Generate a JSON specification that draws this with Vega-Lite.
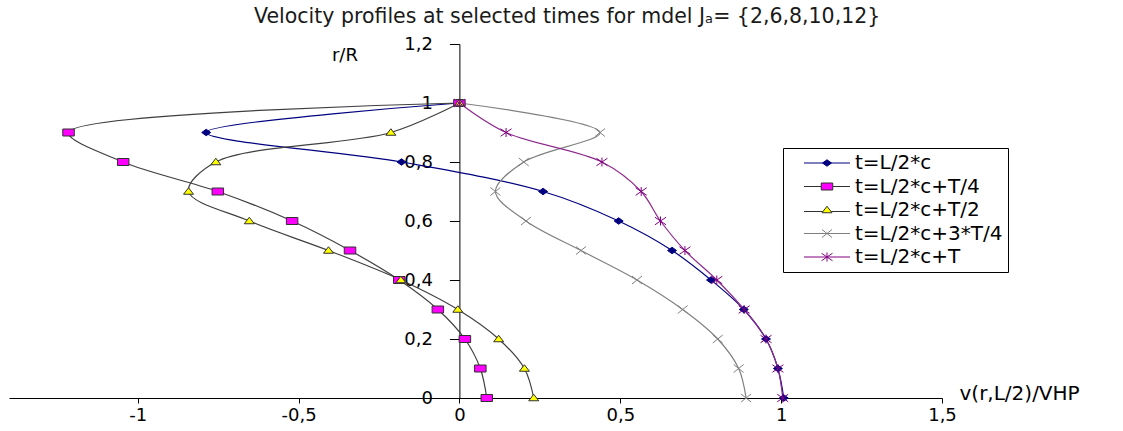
{
  "$schema": "https://vega.github.io/schema/vega-lite/v6.json",
  "width": 933,
  "height": 354,
  "autosize": {"type": "none"},
  "padding": {"left": 9, "top": 44, "right": 181, "bottom": 33},
  "background": "white",
  "title": {
    "text": "Velocity profiles at selected times for mdel Jₐ= {2,6,8,10,12}",
    "anchor": "start",
    "frame": "group",
    "dx": 245,
    "offset": 8,
    "font": "DejaVu Sans",
    "fontSize": 20.5,
    "fontWeight": "normal",
    "color": "#1a1a1a"
  },
  "config": {
    "view": {"stroke": null},
    "axis": {
      "grid": false,
      "domainColor": "black",
      "domainWidth": 1,
      "tickColor": "black",
      "tickWidth": 1,
      "labelColor": "black",
      "titleColor": "black",
      "labelFont": "DejaVu Sans",
      "titleFont": "DejaVu Sans",
      "labelFontSize": 18,
      "titleFontSize": 18,
      "titleFontWeight": "normal"
    }
  },
  "data": {
    "values": [
      {"series": "t=L/2*c", "r": 1, "v": 0},
      {"series": "t=L/2*c", "r": 0.9, "v": -0.787},
      {"series": "t=L/2*c", "r": 0.8, "v": -0.18},
      {"series": "t=L/2*c", "r": 0.7, "v": 0.26},
      {"series": "t=L/2*c", "r": 0.6, "v": 0.495},
      {"series": "t=L/2*c", "r": 0.5, "v": 0.661},
      {"series": "t=L/2*c", "r": 0.4, "v": 0.782},
      {"series": "t=L/2*c", "r": 0.3, "v": 0.884},
      {"series": "t=L/2*c", "r": 0.2, "v": 0.953},
      {"series": "t=L/2*c", "r": 0.1, "v": 0.99},
      {"series": "t=L/2*c", "r": 0, "v": 1.008},
      {"series": "t=L/2*c+T/4", "r": 1, "v": 0},
      {"series": "t=L/2*c+T/4", "r": 0.9, "v": -1.215},
      {"series": "t=L/2*c+T/4", "r": 0.8, "v": -1.045},
      {"series": "t=L/2*c+T/4", "r": 0.7, "v": -0.751},
      {"series": "t=L/2*c+T/4", "r": 0.6, "v": -0.52},
      {"series": "t=L/2*c+T/4", "r": 0.5, "v": -0.34},
      {"series": "t=L/2*c+T/4", "r": 0.4, "v": -0.187},
      {"series": "t=L/2*c+T/4", "r": 0.3, "v": -0.067},
      {"series": "t=L/2*c+T/4", "r": 0.2, "v": 0.017},
      {"series": "t=L/2*c+T/4", "r": 0.1, "v": 0.065},
      {"series": "t=L/2*c+T/4", "r": 0, "v": 0.085},
      {"series": "t=L/2*c+T/2", "r": 1, "v": 0},
      {"series": "t=L/2*c+T/2", "r": 0.9, "v": -0.213},
      {"series": "t=L/2*c+T/2", "r": 0.8, "v": -0.757},
      {"series": "t=L/2*c+T/2", "r": 0.7, "v": -0.842},
      {"series": "t=L/2*c+T/2", "r": 0.6, "v": -0.653},
      {"series": "t=L/2*c+T/2", "r": 0.5, "v": -0.407},
      {"series": "t=L/2*c+T/2", "r": 0.4, "v": -0.182},
      {"series": "t=L/2*c+T/2", "r": 0.3, "v": -0.005},
      {"series": "t=L/2*c+T/2", "r": 0.2, "v": 0.122},
      {"series": "t=L/2*c+T/2", "r": 0.1, "v": 0.202},
      {"series": "t=L/2*c+T/2", "r": 0, "v": 0.231},
      {"series": "t=L/2*c+3*T/4", "r": 1, "v": 0},
      {"series": "t=L/2*c+3*T/4", "r": 0.9, "v": 0.437},
      {"series": "t=L/2*c+3*T/4", "r": 0.8, "v": 0.2},
      {"series": "t=L/2*c+3*T/4", "r": 0.7, "v": 0.112},
      {"series": "t=L/2*c+3*T/4", "r": 0.6, "v": 0.207},
      {"series": "t=L/2*c+3*T/4", "r": 0.5, "v": 0.378},
      {"series": "t=L/2*c+3*T/4", "r": 0.4, "v": 0.552},
      {"series": "t=L/2*c+3*T/4", "r": 0.3, "v": 0.694},
      {"series": "t=L/2*c+3*T/4", "r": 0.2, "v": 0.803},
      {"series": "t=L/2*c+3*T/4", "r": 0.1, "v": 0.868},
      {"series": "t=L/2*c+3*T/4", "r": 0, "v": 0.891},
      {"series": "t=L/2*c+T", "r": 1, "v": 0},
      {"series": "t=L/2*c+T", "r": 0.9, "v": 0.145},
      {"series": "t=L/2*c+T", "r": 0.8, "v": 0.443},
      {"series": "t=L/2*c+T", "r": 0.7, "v": 0.565},
      {"series": "t=L/2*c+T", "r": 0.6, "v": 0.625},
      {"series": "t=L/2*c+T", "r": 0.5, "v": 0.701},
      {"series": "t=L/2*c+T", "r": 0.4, "v": 0.8},
      {"series": "t=L/2*c+T", "r": 0.3, "v": 0.885},
      {"series": "t=L/2*c+T", "r": 0.2, "v": 0.953},
      {"series": "t=L/2*c+T", "r": 0.1, "v": 0.99},
      {"series": "t=L/2*c+T", "r": 0, "v": 1.005}
    ]
  },
  "resolve": {"scale": {"color": "independent", "fill": "independent", "stroke": "independent", "shape": "independent"}},
  "layer": [
    {
      "mark": {"type": "line", "interpolate": "catmull-rom", "strokeWidth": 1.2},
      "encoding": {
        "x": {
          "field": "v", "type": "quantitative",
          "scale": {"domain": [-1.4, 1.5], "nice": false, "zero": false},
          "axis": {
            "orient": "bottom",
            "values": [-1, -0.5, 0, 0.5, 1, 1.5],
            "labelExpr": "replace(toString(datum.value), '.', ',')",
            "labelFlush": false,
            "labelOverlap": false,
            "tickSize": 5,
            "labelPadding": 3,
            "title": "v(r,L/2)/VHP",
            "titleFontSize": 20,
            "titleX": 950,
            "titleY": -5,
            "titleAlign": "left",
            "titleBaseline": "middle"
          }
        },
        "y": {
          "field": "r", "type": "quantitative",
          "scale": {"domain": [0, 1.2], "nice": false},
          "axis": {
            "orient": "left",
            "offset": -450.4,
            "values": [0, 0.2, 0.4, 0.6, 0.8, 1, 1.2],
            "labelExpr": "replace(toString(datum.value), '.', ',')",
            "labelOverlap": false,
            "tickSize": 10,
            "labelPadding": 17,
            "title": "r/R",
            "titleAngle": 0,
            "titleX": -115,
            "titleY": 11,
            "titleAlign": "center",
            "titleBaseline": "middle"
          }
        },
        "order": {"field": "r", "type": "quantitative"},
        "color": {
          "field": "series", "type": "nominal",
          "scale": {
            "domain": ["t=L/2*c", "t=L/2*c+T/4", "t=L/2*c+T/2", "t=L/2*c+3*T/4", "t=L/2*c+T"],
            "range": ["#000080", "#404040", "#404040", "#808080", "#8E2A8E"]
          },
          "legend": null
        }
      }
    },
    {
      "mark": {"type": "point", "filled": true, "size": 100, "strokeWidth": 1, "opacity": 1},
      "encoding": {
        "x": {"field": "v", "type": "quantitative"},
        "y": {"field": "r", "type": "quantitative"},
        "fill": {
          "field": "series", "type": "nominal",
          "scale": {
            "domain": ["t=L/2*c", "t=L/2*c+T/4", "t=L/2*c+T/2", "t=L/2*c+3*T/4", "t=L/2*c+T"],
            "range": ["#000080", "#FF00FF", "#FFFF00", "transparent", "transparent"]
          },
          "legend": null
        },
        "stroke": {
          "field": "series", "type": "nominal",
          "scale": {
            "domain": ["t=L/2*c", "t=L/2*c+T/4", "t=L/2*c+T/2", "t=L/2*c+3*T/4", "t=L/2*c+T"],
            "range": ["#000080", "#303030", "#303030", "#808080", "#800080"]
          },
          "legend": null
        },
        "shape": {
          "field": "series", "type": "nominal",
          "scale": {
            "domain": ["t=L/2*c", "t=L/2*c+T/4", "t=L/2*c+T/2", "t=L/2*c+3*T/4", "t=L/2*c+T"],
            "range": ["M0,-0.65L0.9,0L0,0.65L-0.9,0Z", "M-1.15,-0.7H1.15V0.7H-1.15Z", "M0,-0.75L1,0.55H-1Z", "M-1,-0.8L1,0.8M-1,0.8L1,-0.8", "M-1.1,-0.75L1.1,0.75M-1.1,0.75L1.1,-0.75M0,-0.9V0.9"]
          },
          "legend": null
        }
      }
    },
    {
      "transform": [{"filter": "false"}],
      "mark": {"type": "point", "filled": true, "size": 100, "strokeWidth": 1, "opacity": 1},
      "encoding": {
        "x": {"field": "v", "type": "quantitative"},
        "y": {"field": "r", "type": "quantitative"},
        "fill": {
          "field": "series", "type": "nominal",
          "scale": {
            "domain": ["t=L/2*c", "t=L/2*c+T/4", "t=L/2*c+T/2", "t=L/2*c+3*T/4", "t=L/2*c+T"],
            "range": ["#000080", "#FF00FF", "#FFFF00", "transparent", "transparent"]
          }
        },
        "stroke": {
          "field": "series", "type": "nominal",
          "scale": {
            "domain": ["t=L/2*c", "t=L/2*c+T/4", "t=L/2*c+T/2", "t=L/2*c+3*T/4", "t=L/2*c+T"],
            "range": ["#000080", "#303030", "#303030", "#808080", "#800080"]
          }
        },
        "shape": {
          "field": "series", "type": "nominal",
          "scale": {
            "domain": ["t=L/2*c", "t=L/2*c+T/4", "t=L/2*c+T/2", "t=L/2*c+3*T/4", "t=L/2*c+T"],
            "range": ["M-4.6,0H4.6M0,-0.65L0.9,0L0,0.65L-0.9,0Z", "M-4.6,0H-1.15M1.15,0H4.6M-1.15,-0.7H1.15V0.7H-1.15Z", "M-4.6,0.3H-0.85M0.85,0.3H4.6M0,-0.75L1,0.55H-1Z", "M-4.6,0H4.6M-1,-0.8L1,0.8M-1,0.8L1,-0.8", "M-4.6,0H4.6M-1.1,-0.75L1.1,0.75M-1.1,0.75L1.1,-0.75M0,-0.9V0.9"]
          },
          "legend": {
            "title": null,
            "orient": "none",
            "legendX": 774,
            "legendY": 104,
            "strokeColor": "black",
            "fillColor": "white",
            "padding": 5,
            "symbolSize": 100,
            "symbolStrokeWidth": 1,
            "symbolOpacity": 1,
            "symbolOffset": 29,
            "labelOffset": 18,
            "labelFont": "DejaVu Sans",
            "labelFontSize": 20,
            "labelColor": "black",
            "rowPadding": 3.5,
            "labelLimit": 400
          }
        }
      }
    }
  ]
}
